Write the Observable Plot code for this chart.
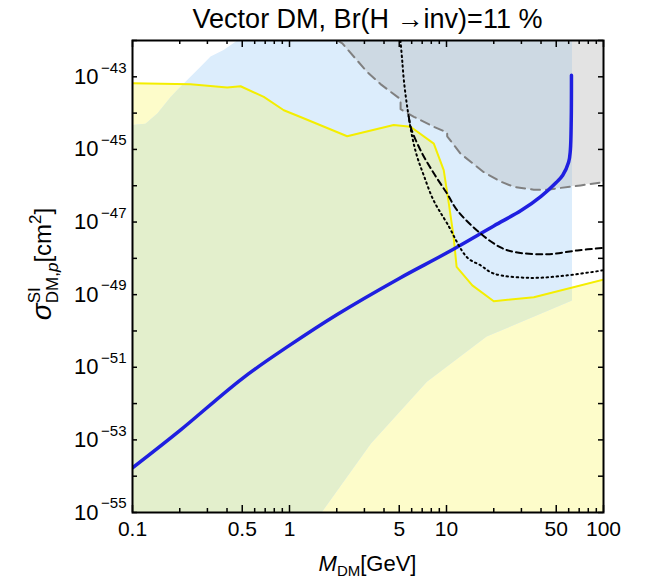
<!DOCTYPE html>
<html>
<head>
<meta charset="utf-8">
<script src="https://cdn.jsdelivr.net/npm/d3@7"></script>
<script src="https://cdn.jsdelivr.net/npm/@observablehq/plot@0.6"></script>
<style>
  html, body { margin: 0; padding: 0; background: #fff; }
  svg { display: block; }
</style>
</head>
<body>
<div id="chart"></div>
<script>
// ---- Data ----
// Theory prediction (blue curve)
const massTheory  = [0.1, 0.2, 0.5, 1, 2, 5, 10, 20, 30, 40, 50, 55, 60, 61.5, 62.3, 62.5];
const sigmaTheory = [1.7e-54, 1.8e-53, 4.9e-52, 4.0e-51, 2.8e-50, 2.8e-49, 1.4e-48, 7.8e-48, 2.1e-47, 5.1e-47, 1.23e-46, 1.95e-46, 4.5e-46, 9.5e-46, 6.5e-45, 1.1e-43];

// Yellow exclusion curve
const massYellow  = [0.1, 0.234, 0.401, 0.488, 0.686, 0.92, 1.175, 2.33, 4.61, 5.9, 8.3, 9.6, 10.35, 11.1, 11.6, 14.6, 20, 36, 100];
const sigmaYellow = [6.6e-44, 6.2e-44, 5.1e-44, 5.5e-44, 2.8e-44, 1.2e-44, 7.8e-45, 2.3e-45, 4.7e-45, 4.2e-45, 1.45e-45, 2.7e-46, 3.2e-47, 3.9e-48, 5.8e-49, 1.8e-49, 6.6e-50, 8.5e-50, 2.6e-49];

// Gray dashed curve (excluded region above it)
const massGray  = [2.02, 2.17, 3.13, 3.8, 5.1, 5.1, 6.2, 8.3, 10.1, 10.1, 12.3, 17.2, 22.1, 26.9, 36, 43.8, 53.2, 71.4, 100];
const sigmaGray = [1.0e-42, 8.3e-43, 1.35e-43, 6.3e-44, 2.4e-44, 1.28e-44, 7.9e-45, 4.2e-45, 2.9e-45, 2.3e-45, 7.6e-46, 2.4e-46, 1.3e-46, 9.3e-47, 7.8e-47, 7.8e-47, 8.7e-47, 1.02e-46, 1.26e-46];

// Black dashed curve
const massDashed  = [5.75, 5.95, 6.83, 8.3, 10.1, 11.7, 16.5, 22.1, 26.9, 43.8, 68, 100];
const sigmaDashed = [8.0e-45, 3.8e-45, 9.5e-46, 2.2e-46, 6.0e-47, 2.1e-47, 4.8e-48, 2.0e-48, 1.5e-48, 1.3e-48, 1.65e-48, 1.95e-48];

// Black dotted curve
const massDotted  = [5.09, 5.22, 5.35, 5.62, 6.05, 6.51, 7.16, 8.26, 10.1, 13.5, 16.5, 20, 34.3, 58.7, 100];
const sigmaDotted = [1.0e-42, 2.9e-43, 8.1e-44, 1.48e-44, 2.2e-45, 6.2e-46, 1.95e-46, 4.0e-47, 9.1e-48, 1.07e-48, 6.4e-49, 3.8e-49, 2.9e-49, 3.4e-49, 4.7e-49];

// Scan region (light-blue points region outline)
const massScan  = [0.1, 0.121, 0.144, 0.175, 0.197, 0.234, 0.271, 0.314, 0.38, 0.465, 63, 63, 18, 7.5, 3.3, 1.6, 0.1];
const sigmaScan = [4.7e-45, 5.1e-45, 9.8e-45, 2.8e-44, 4.8e-44, 1e-43, 1.9e-43, 3.6e-43, 5.5e-43, 1e-42, 1e-42, 6.9e-50, 7.0e-51, 4.0e-52, 8.0e-54, 1e-55, 1e-55];

// Axis ticks
const xTickValues = [0.1, 0.5, 1, 5, 10, 50, 100];
const xTickLabels = ["0.1", "0.5", "1", "5", "10", "50", "100"];
const xMinorTicks = [0.2, 0.3, 0.4, 0.6, 0.7, 0.8, 0.9, 2, 3, 4, 6, 7, 8, 9, 20, 30, 40, 60, 70, 80, 90];
const yTickExponents  = [-55, -54, -53, -52, -51, -50, -49, -48, -47, -46, -45, -44, -43, -42];
const yLabelExponents = [-55, -53, -51, -49, -47, -45, -43];

const title = "Vector DM, Br(H \u2192inv)=11 %";

// ---- Colours ----
const C_YELLOW = "#fdfcca", C_SCAN = "#dcedfc", C_GREEN = "#e3efcc", C_GRAY = "#e3e3e3", C_GRAYSCAN = "#cdd9e3";

// ---- Tables ----
const zip = (xs, ys) => xs.map((x, i) => ({x, y: ys[i]}));
const theory = zip(massTheory, sigmaTheory);
const yellow = zip(massYellow, sigmaYellow);
const gray   = zip(massGray, sigmaGray);
const dashed = zip(massDashed, sigmaDashed);
const dotted = zip(massDotted, sigmaDotted);
const scan   = zip(massScan, sigmaScan);
const xLabelMap = new Map(xTickValues.map((v, i) => [v, xTickLabels[i]]));
const yTicks = yTickExponents.map(e => Math.pow(10, e));
const Y_MIN = 1e-55, Y_MAX = 1e-42;

const WIDTH = 648, HEIGHT = 581;
const M = {left: 132, right: 45, top: 40, bottom: 69};
const innerW = WIDTH - M.left - M.right;
const innerH = HEIGHT - M.top - M.bottom;
const MAJOR = 7, MINOR = 4, YTICK = 5;

const FONT = "'Liberation Sans', Arial, Helvetica, sans-serif";

const plot = Plot.plot({
  width: WIDTH,
  height: HEIGHT,
  marginLeft: M.left,
  marginRight: M.right,
  marginTop: M.top,
  marginBottom: M.bottom,
  style: {fontFamily: FONT, background: "white", color: "black"},
  x: {type: "log", domain: [0.1, 100], axis: null},
  y: {type: "log", domain: [Y_MIN, Y_MAX], axis: null},
  marks: [
    // regions: yellow, scan (blue), yellow∩scan (green), gray, gray∩scan
    Plot.areaY(yellow, {x: "x", y1: Y_MIN, y2: "y", fill: C_YELLOW, clip: true}),
    Plot.line(scan, {x: "x", y: "y", fill: C_SCAN, stroke: "none", clip: true}),
    Plot.areaY(yellow, {x: "x", y1: Y_MIN, y2: "y", fill: C_GREEN, clip: true}),
    Plot.areaY(gray, {x: "x", y1: "y", y2: Y_MAX, fill: C_GRAY, clip: true}),
    Plot.areaY(gray, {x: "x", y1: "y", y2: Y_MAX, fill: C_GRAYSCAN, clip: true}),
    // curves
    Plot.line(gray, {x: "x", y: "y", stroke: "#808080", strokeWidth: 2, strokeDasharray: "9,6", clip: true}),
    Plot.line(yellow, {x: "x", y: "y", stroke: "#f4ee00", strokeWidth: 2, clip: true}),
    Plot.line(theory, {x: "x", y: "y", stroke: "#1f1fe0", strokeWidth: 3.5, curve: "catmull-rom", clip: true}),
    Plot.line(dashed, {x: "x", y: "y", stroke: "black", strokeWidth: 2, strokeDasharray: "6,4", curve: "catmull-rom", clip: true}),
    Plot.line(dotted, {x: "x", y: "y", stroke: "black", strokeWidth: 2, strokeDasharray: "1.5,3.5", strokeLinecap: "round", curve: "catmull-rom", clip: true}),
    // frame
    Plot.frame({stroke: "black", strokeWidth: 2}),
    // inward ticks on all four sides
    Plot.tickX(xTickValues, {x: d => d, insetTop: innerH - MAJOR, stroke: "black", strokeWidth: 1.5}),
    Plot.tickX(xMinorTicks, {x: d => d, insetTop: innerH - MINOR, stroke: "black", strokeWidth: 1.5}),
    Plot.tickX(xTickValues, {x: d => d, insetBottom: innerH - MAJOR, stroke: "black", strokeWidth: 1.5}),
    Plot.tickX(xMinorTicks, {x: d => d, insetBottom: innerH - MINOR, stroke: "black", strokeWidth: 1.5}),
    Plot.tickY(yTicks, {y: d => d, insetRight: innerW - YTICK, stroke: "black", strokeWidth: 1.5}),
    Plot.tickY(yTicks, {y: d => d, insetLeft: innerW - YTICK, stroke: "black", strokeWidth: 1.5}),
    // tick labels
    Plot.text(xTickValues, {x: d => d, frameAnchor: "bottom", text: d => xLabelMap.get(d), lineAnchor: "top", dy: 9, fontSize: 21}),
    Plot.text(yLabelExponents, {y: e => Math.pow(10, e), frameAnchor: "left", text: () => "10", textAnchor: "end", dx: -34, fontSize: 22}),
    Plot.text(yLabelExponents, {y: e => Math.pow(10, e), frameAnchor: "left", text: e => "\u2212" + Math.abs(e), textAnchor: "end", dx: -6, dy: -9, fontSize: 15})
  ]
});

document.getElementById("chart").appendChild(plot);

const svg = d3.select(plot);

// clip the overlap colours to the scan-region outline
const scanGroup = svg.select(`g[fill="${C_SCAN}"]`);
const scanPath = scanGroup.empty() ? null : scanGroup.select("path");
if (scanPath && !scanPath.empty()) {
  const clip = svg.append("defs").append("clipPath").attr("id", "scan-clip");
  const cp = clip.append("path").attr("d", scanPath.attr("d"));
  const tr = scanGroup.attr("transform");
  if (tr) cp.attr("transform", tr);
  svg.selectAll(`g[fill="${C_GREEN}"] path, g[fill="${C_GRAYSCAN}"] path`).attr("clip-path", "url(#scan-clip)");
}

svg.append("text")
  .attr("x", 367.5).attr("y", 28)
  .attr("text-anchor", "middle")
  .attr("font-family", FONT).attr("font-size", 27).attr("fill", "black")
  .text(title);

const xl = svg.append("text")
  .attr("x", 367.5).attr("y", 571)
  .attr("text-anchor", "middle")
  .attr("font-family", FONT).attr("font-size", 22).attr("fill", "black");
xl.append("tspan").attr("font-style", "italic").text("M");
xl.append("tspan").attr("font-size", 15).attr("dy", 5).text("DM");
xl.append("tspan").attr("dy", -5).text("[GeV]");

const yl = svg.append("text")
  .attr("transform", "translate(51,264) rotate(-90)")
  .attr("text-anchor", "middle")
  .attr("font-family", FONT).attr("font-size", 24).attr("fill", "black");
yl.append("tspan").attr("font-style", "italic").attr("font-size", 28).text("\u03c3");
yl.append("tspan").attr("font-size", 17).attr("dy", -11).text("SI");
yl.append("tspan").attr("font-size", 17).attr("dx", -16).attr("dy", 18).text("DM,");
yl.append("tspan").attr("font-size", 17).attr("font-style", "italic").text("p");
yl.append("tspan").attr("dy", -7).text("[cm");
yl.append("tspan").attr("font-size", 17).attr("dy", -10).text("2");
yl.append("tspan").attr("dy", 10).text("]");
</script>
</body>
</html>
